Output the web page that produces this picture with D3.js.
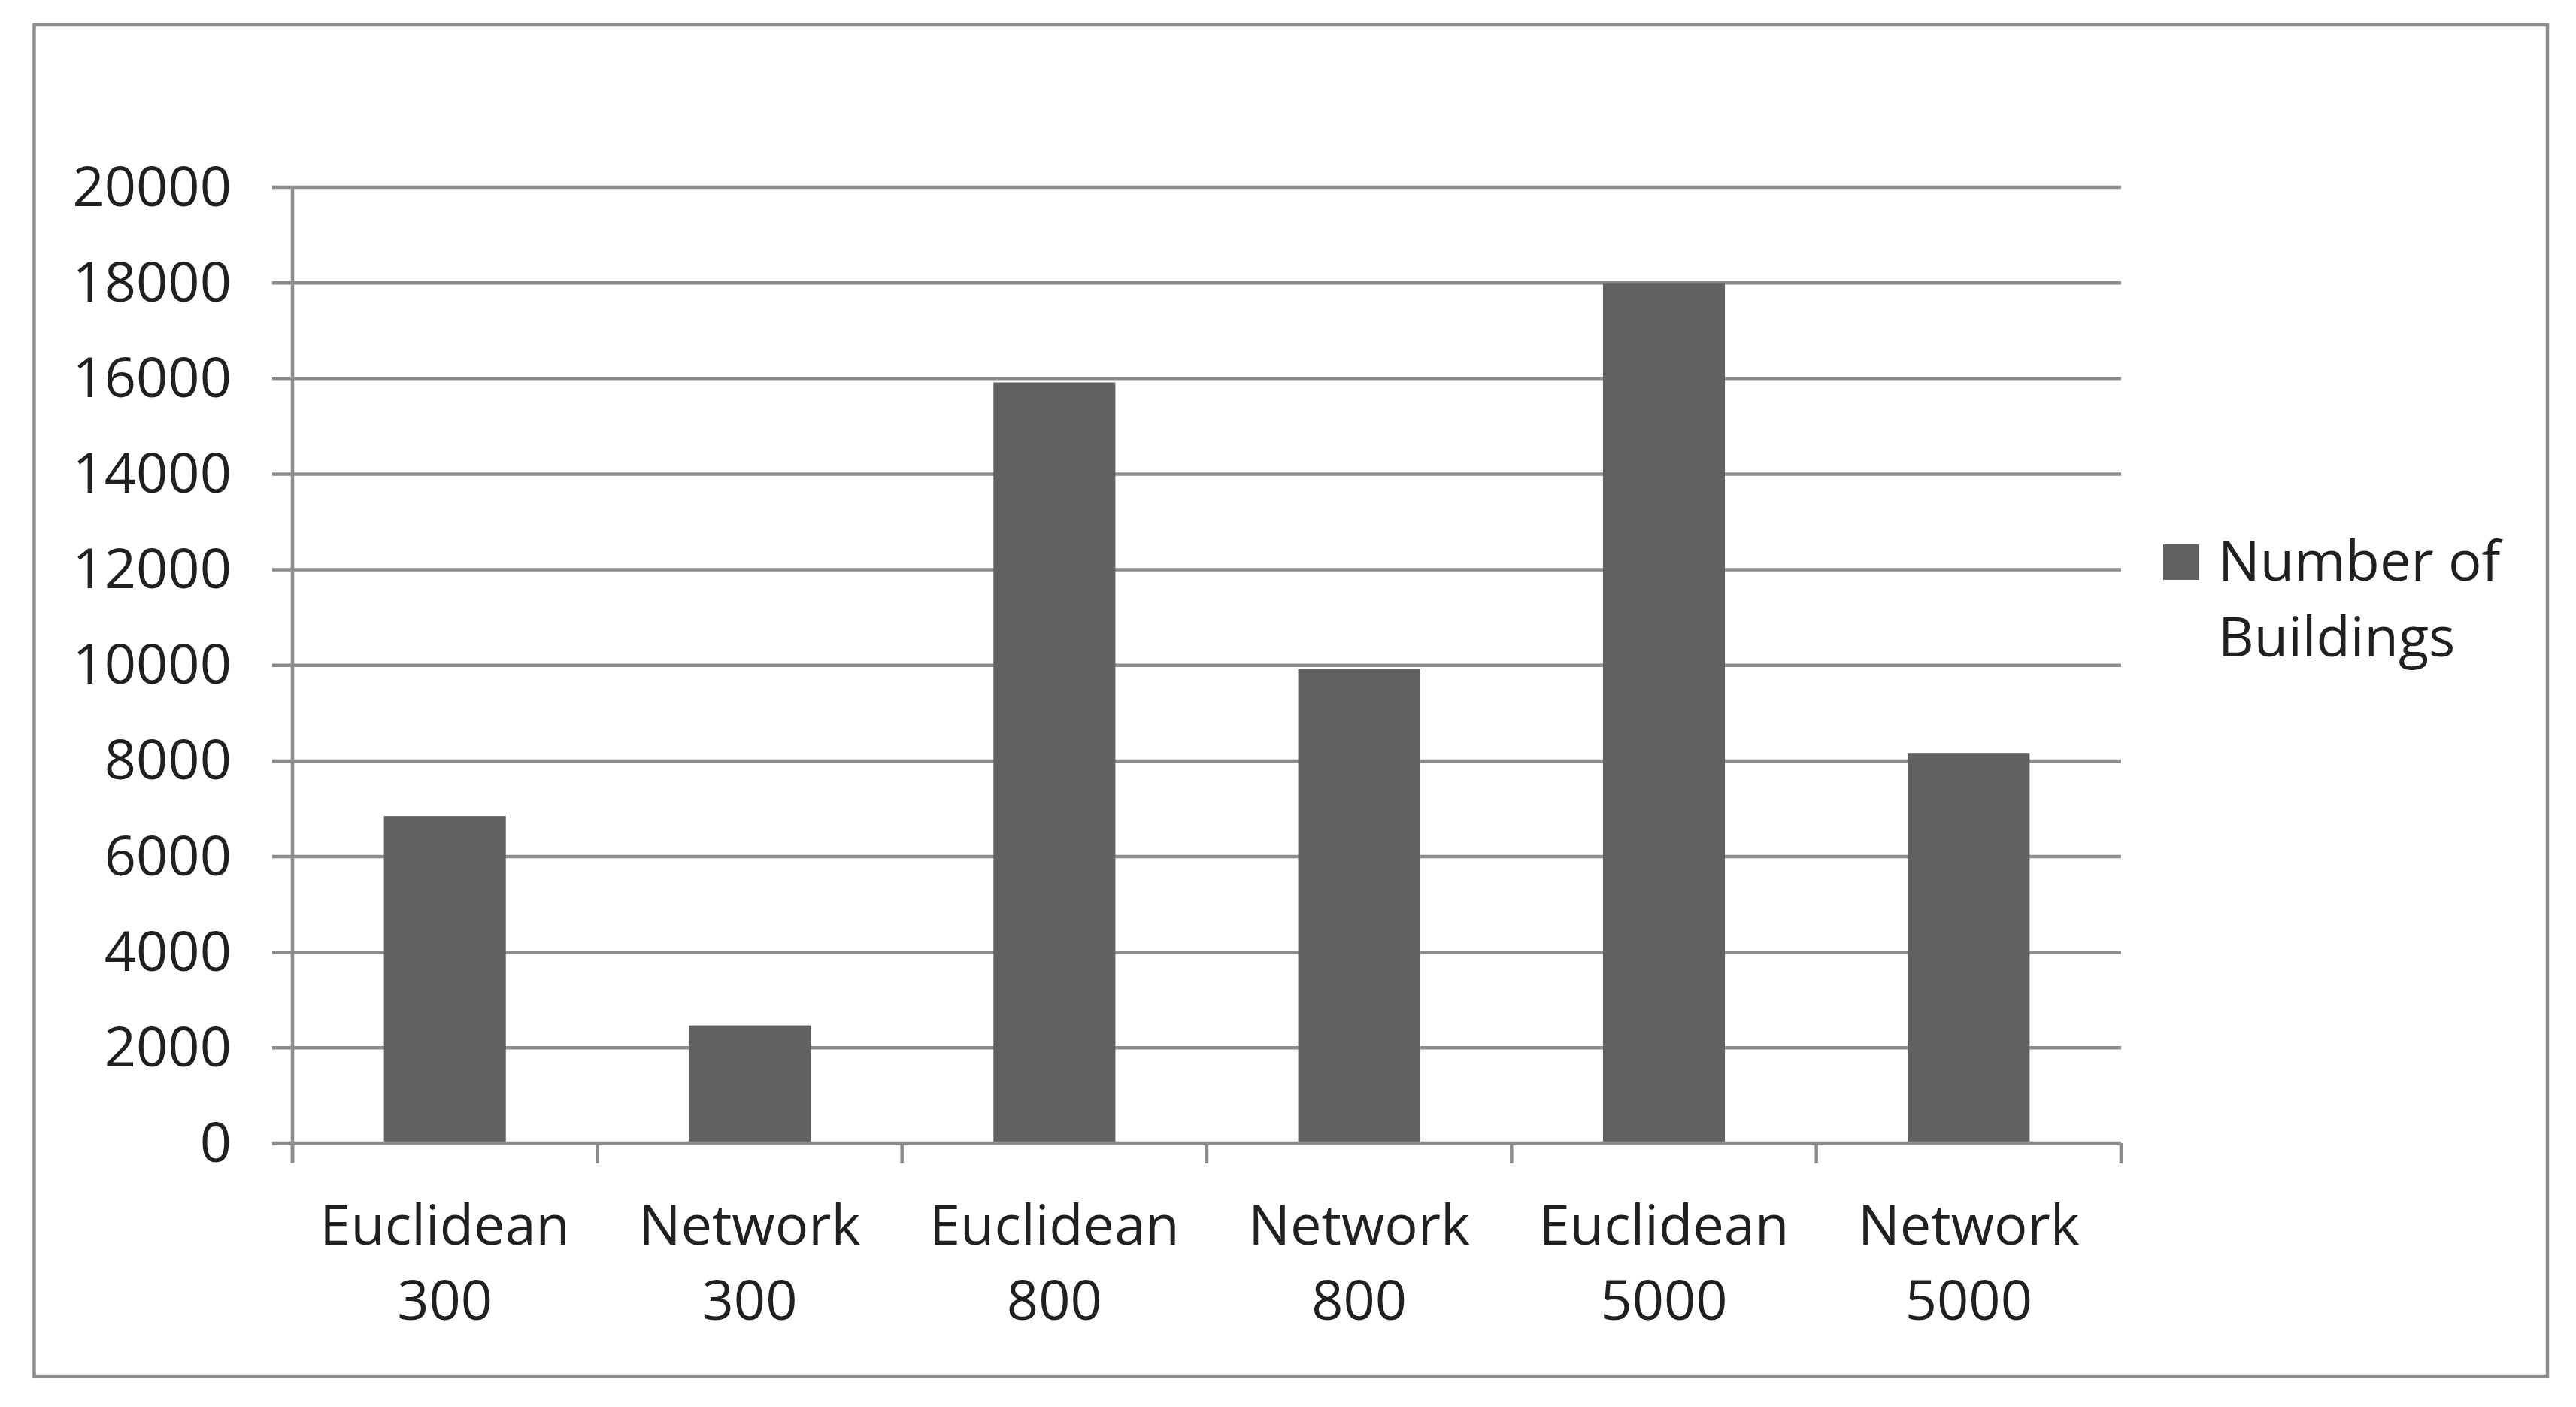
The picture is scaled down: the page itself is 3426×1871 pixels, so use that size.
<!DOCTYPE html>
<html>
<head>
<meta charset="utf-8">
<script src="https://cdn.jsdelivr.net/npm/d3@7"></script>
<style>
  html, body { margin: 0; padding: 0; background: #ffffff; }
  svg { display: block; }
  text { font-family: "Open Sans", "Noto Sans", sans-serif; fill: #231f20; }
</style>
</head>
<body>
<svg id="chart" width="3426" height="1871"></svg>
<script>
// ---- data ----
const categories = ["Euclidean 300", "Network 300", "Euclidean 800", "Network 800", "Euclidean 5000", "Network 5000"];
const values = [6840, 2460, 15910, 9910, 17990, 8160];
const seriesName = "Number of Buildings";
const yTicks = [0, 2000, 4000, 6000, 8000, 10000, 12000, 14000, 16000, 18000, 20000];

// ---- layout ----
const svg = d3.select("#chart");
const plot = { left: 389, right: 2821, top: 248.5, bottom: 1520 };
const gridColor = "#8c8c8c";
const barColor = "#616161";
const fontSize = 74;

// outer border
svg.append("rect")
  .attr("x", 45.5).attr("y", 33)
  .attr("width", 3388 - 45.5).attr("height", 1830 - 33)
  .attr("fill", "none").attr("stroke", gridColor).attr("stroke-width", 4.5);

const x = d3.scaleBand()
  .domain(categories)
  .range([plot.left, plot.right])
  .paddingInner(0.6)
  .paddingOuter(0.3);

const y = d3.scaleLinear()
  .domain([0, 20000])
  .range([plot.bottom, plot.top]);

// gridlines + left ticks
const yAxis = d3.axisLeft(y)
  .tickValues(yTicks)
  .tickSize(-(plot.right - plot.left))
  .tickSizeOuter(0)
  .tickPadding(0)
  .tickFormat("");
const gy = svg.append("g")
  .attr("transform", `translate(${plot.left},0)`)
  .call(yAxis);
gy.select(".domain").remove();
gy.selectAll(".tick line")
  .attr("x1", -27)
  .attr("stroke", gridColor).attr("stroke-width", 4.5);

// y tick labels
svg.append("g").selectAll("text")
  .data(yTicks)
  .join("text")
  .attr("x", 308)
  .attr("y", d => y(d) + 25)
  .attr("text-anchor", "end")
  .attr("font-size", fontSize)
  .text(d => d);

// bars
svg.append("g").selectAll("rect")
  .data(values)
  .join("rect")
  .attr("x", (d, i) => x(categories[i]))
  .attr("y", d => y(d))
  .attr("width", x.bandwidth())
  .attr("height", d => y(0) - y(d))
  .attr("fill", barColor);

// y axis line (drawn over)
svg.append("line")
  .attr("x1", plot.left).attr("x2", plot.left)
  .attr("y1", plot.top).attr("y2", plot.bottom + 27)
  .attr("stroke", gridColor).attr("stroke-width", 4.5);

// x axis line
svg.append("line")
  .attr("x1", plot.left - 27).attr("x2", plot.right)
  .attr("y1", plot.bottom).attr("y2", plot.bottom)
  .attr("stroke", gridColor).attr("stroke-width", 4.5);

// category boundary ticks
const step = x.step();
const boundaries = d3.range(categories.length + 1).map(i => plot.left + i * step);
svg.append("g").selectAll("line")
  .data(boundaries)
  .join("line")
  .attr("x1", d => d).attr("x2", d => d)
  .attr("y1", plot.bottom).attr("y2", plot.bottom + 27)
  .attr("stroke", gridColor).attr("stroke-width", 4.5);

// x labels (two lines)
const xl = svg.append("g").selectAll("text")
  .data(categories)
  .join("text")
  .attr("text-anchor", "middle")
  .attr("font-size", fontSize)
  .attr("x", d => x(d) + x.bandwidth() / 2)
  .attr("y", 1655);
xl.each(function(d) {
  const parts = d.split(" ");
  const t = d3.select(this);
  const cx = x(d) + x.bandwidth() / 2;
  parts.forEach((p, j) => {
    t.append("tspan").attr("x", cx).attr("y", 1655 + j * 100).text(p);
  });
});

// legend
const lg = svg.append("g");
lg.append("rect")
  .attr("x", 2877).attr("y", 724)
  .attr("width", 47).attr("height", 47)
  .attr("fill", barColor);
const words = seriesName.split(" ");
const legendLines = [words.slice(0, 2).join(" "), words.slice(2).join(" ")];
lg.selectAll("text")
  .data(legendLines)
  .join("text")
  .attr("x", 2950)
  .attr("y", (d, i) => 772 + i * 101)
  .attr("font-size", fontSize)
  .text(d => d);
</script>
</body>
</html>
